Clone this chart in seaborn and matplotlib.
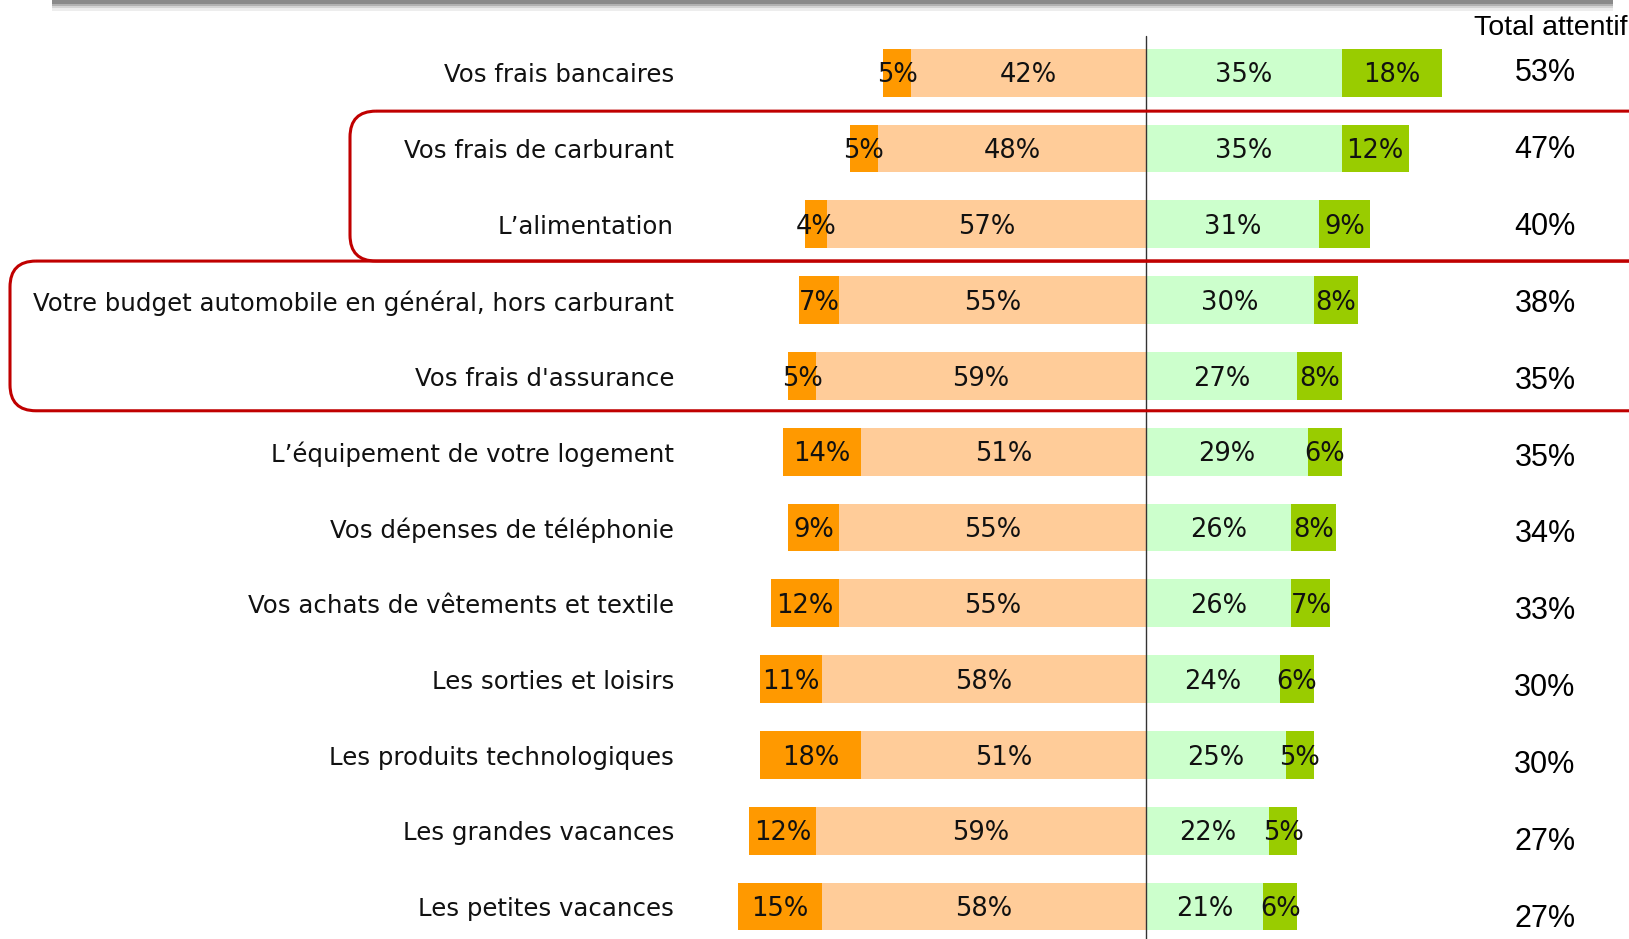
"""
Poste de dépenses : attention portée au budget (barres divergentes)
"""

import matplotlib
matplotlib.use("Agg")
import matplotlib.pyplot as plt
from matplotlib.patches import FancyBboxPatch, Rectangle
import numpy as np
import pandas as pd
import seaborn as sns

# ── Données ───────────────────────────────────────────────────────────────────
labels = [
    "Vos frais bancaires",
    "Vos frais de carburant",
    "L\u2019alimentation",
    "Votre budget automobile en général, hors carburant",
    "Vos frais d'assurance",
    "L\u2019équipement de votre logement",
    "Vos dépenses de téléphonie",
    "Vos achats de vêtements et textile",
    "Les sorties et loisirs",
    "Les produits technologiques",
    "Les grandes vacances",
    "Les petites vacances",
]
orange_fort  = [5, 5, 4, 7, 5, 14, 9, 12, 11, 18, 12, 15]
orange_clair = [42, 48, 57, 55, 59, 51, 55, 55, 58, 51, 59, 58]
vert_clair   = [35, 35, 31, 30, 27, 29, 26, 26, 24, 25, 22, 21]
vert_fort    = [18, 12, 9, 8, 8, 6, 8, 7, 6, 5, 5, 6]
total_attentif = [53, 47, 40, 38, 35, 35, 34, 33, 30, 30, 27, 27]

# ── Style ─────────────────────────────────────────────────────────────────────
C_OR_FORT  = "#FF9900"
C_OR_CLAIR = "#FFCC99"
C_VE_CLAIR = "#CCFFCC"
C_VE_FORT  = "#99CC00"
C_ROUGE    = "#C00000"

sns.set_style("white")
plt.rcParams["font.family"] = ["DejaVu Sans"]

W, H = 1629, 939
PX_PER_PCT = 5.59
PX_PER_ROW = 75.8
X0_PX, Y0_PX = 1146, 72.7
DY_TXT = 0.035   # léger décalage vertical du texte


def main():
    df = pd.DataFrame({
        "label": labels,
        "neg_total": -(np.array(orange_fort) + np.array(orange_clair)),
        "neg_clair": -np.array(orange_clair),
        "pos_total": np.array(vert_clair) + np.array(vert_fort),
        "pos_clair": np.array(vert_clair),
    })

    fig = plt.figure(figsize=(W / 100, H / 100), dpi=100)
    ax = fig.add_axes([0, 0, 1, 1])

    for col, color in [("neg_total", C_OR_FORT), ("neg_clair", C_OR_CLAIR),
                       ("pos_total", C_VE_FORT), ("pos_clair", C_VE_CLAIR)]:
        sns.barplot(data=df, x=col, y="label", orient="h", color=color,
                    saturation=1, width=0.63, linewidth=0, errorbar=None, ax=ax)

    xlim = (-X0_PX / PX_PER_PCT, (W - X0_PX) / PX_PER_PCT)
    ylim = ((H - Y0_PX) / PX_PER_ROW, -Y0_PX / PX_PER_ROW)
    ax.set_xlim(*xlim)
    ax.set_ylim(*ylim)
    ax.axis("off")

    def px_x(px):
        return (px - X0_PX) / PX_PER_PCT

    # axe central
    top = -0.484
    ax.axvline(0, ymin=0, ymax=(ylim[0] - top) / (ylim[0] - ylim[1]),
               color="#333333", lw=1.0)

    # étiquettes des postes et valeurs
    for i, lab in enumerate(labels):
        y = i + DY_TXT
        ax.text(px_x(674), y, lab, ha="right", va="center", fontsize=17.6, color="#111111")

        of, oc, vc, vf = orange_fort[i], orange_clair[i], vert_clair[i], vert_fort[i]
        kw = dict(ha="center", va="center", fontsize=18.5, color="#111111")
        ax.text(-(oc + of / 2), y, f"{of}%", **kw)
        ax.text(-oc / 2, y, f"{oc}%", **kw)
        ax.text(vc / 2, y, f"{vc}%", **kw)
        ax.text(vc + vf / 2, y, f"{vf}%", **kw)

        ax.text(px_x(1545), i * 1.0137 + 0.01, f"{total_attentif[i]}%", ha="center",
                va="center", fontsize=22, family="Liberation Sans", color="black")

    ax.text(px_x(1627), -0.59, "Total attentif", ha="right", va="center",
            fontsize=20.5, family="Liberation Sans", color="black")

    # cadres rouges arrondis
    aspect = (1 / PX_PER_ROW) / (1 / PX_PER_PCT)
    rr = 26 / PX_PER_PCT
    for (x0_px, y0, y1) in [(350, 0.507, 2.485), (10, 2.485, 4.46)]:
        x0 = px_x(x0_px)
        box = FancyBboxPatch((x0, y0), px_x(1660) - x0, y1 - y0,
                             boxstyle=f"round,pad=0,rounding_size={rr:.3f}",
                             mutation_aspect=aspect, fill=False,
                             edgecolor=C_ROUGE, lw=2.2, clip_on=False, zorder=5)
        ax.add_patch(box)

    # bandeau gris en haut, avec ombre
    for alpha, hgt in [(0.12, 11), (0.2, 8), (0.35, 6), (0.6, 4)]:
        fig.patches.append(Rectangle((52 / W, 1 - hgt / H), (1613 - 52) / W, hgt / H,
                                     transform=fig.transFigure, color="#707070",
                                     alpha=alpha, lw=0))

    fig.savefig("out.png", dpi=100)
    plt.close(fig)


if __name__ == "__main__":
    main()
